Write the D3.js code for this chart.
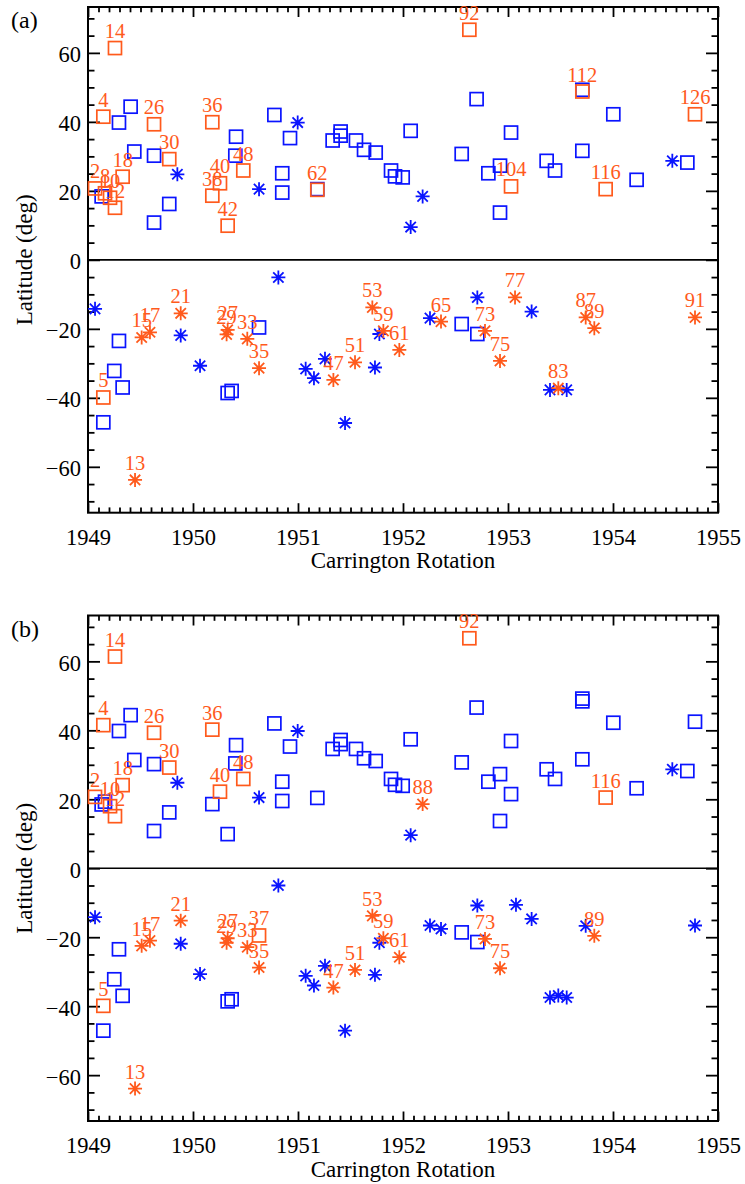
<!DOCTYPE html>
<html>
<head>
<meta charset="utf-8">
<script src="https://cdn.jsdelivr.net/npm/d3@7"></script>
<style>
  html, body { margin: 0; padding: 0; background: #fff; }
  svg { display: block; }
  svg text { font-family: "Liberation Serif", "Times New Roman", Times, "DejaVu Serif", serif; }
</style>
</head>
<body>
<svg id="chart" width="745" height="1184"></svg>
<script>
// ---------------- DATA ----------------
const xTicks = [1949, 1950, 1951, 1952, 1953, 1954, 1955];
const yTicks = [-60, -40, -20, 0, 20, 40, 60];
const xTitle = "Carrington Rotation";
const yTitle = "Latitude (deg)";
const panelLabels = ["(a)", "(b)"];

// Panel (a)
const aBlueSquares = [
  [1949.13, 18.4], [1949.295, 39.8], [1949.406, 44.4], [1949.441, 31.4], [1949.629, 30.2],
  [1949.629, 10.8], [1949.774, 16.2], [1950.41, 35.7], [1950.403, 30.2], [1950.775, 42.0],
  [1950.924, 35.3], [1950.85, 25.1], [1950.85, 19.5], [1951.184, 20.5], [1951.33, 34.6],
  [1951.406, 37.2], [1951.406, 36.0], [1951.552, 34.6], [1951.629, 31.9], [1951.74, 31.1],
  [1951.886, 25.9], [1951.924, 24.2], [1951.997, 23.9], [1952.073, 37.4], [1952.559, 30.7],
  [1952.701, 46.6], [1952.813, 25.1], [1952.924, 27.3], [1952.924, 13.7], [1953.029, 36.9],
  [1953.368, 28.7], [1953.448, 25.9], [1953.708, 31.6], [1953.708, 49.3], [1954.003, 42.2],
  [1954.225, 23.2], [1954.708, 28.2],
  [1949.295, -23.5], [1949.25, -32.2], [1949.33, -37.0], [1949.146, -47.1], [1950.33, -38.6],
  [1950.368, -38.0], [1950.629, -19.6], [1952.559, -18.6], [1952.708, -21.5]
];
const aBlueStars = [
  [1949.851, 24.8], [1950.629, 20.5], [1950.997, 39.8], [1952.187, 18.4], [1952.073, 9.5],
  [1954.565, 28.7],
  [1949.067, -14.2], [1949.883, -21.9], [1950.067, -30.7], [1950.813, -5.1], [1951.073, -31.6],
  [1951.152, -34.3], [1951.257, -28.7], [1951.775, -21.5], [1951.733, -31.2], [1951.448, -47.3],
  [1952.257, -16.9], [1952.708, -10.9], [1953.225, -15.0], [1953.4, -37.7], [1953.559, -37.7]
];
const aOrangeSquares = [
  [2, 1949.067, 20.7], [4, 1949.146, 41.5], [8, 1949.162, 19.3], [10, 1949.21, 18.0],
  [12, 1949.257, 15.1], [14, 1949.257, 61.4], [18, 1949.33, 24.1], [26, 1949.629, 39.3],
  [30, 1949.774, 29.2], [36, 1950.184, 39.9], [38, 1950.184, 18.6], [40, 1950.257, 22.2],
  [42, 1950.33, 9.9], [48, 1950.479, 25.9], [62, 1951.184, 20.3], [92, 1952.632, 66.7],
  [104, 1953.029, 21.3], [112, 1953.708, 48.8], [116, 1953.93, 20.5], [126, 1954.781, 42.2],
  [5, 1949.146, -39.9]
];
const aOrangeStars = [
  [13, 1949.448, -63.8], [15, 1949.511, -22.5], [17, 1949.59, -21.0], [21, 1949.883, -15.5],
  [27, 1950.33, -20.3], [29, 1950.32, -21.6], [33, 1950.517, -22.9], [35, 1950.629, -31.4],
  [47, 1951.337, -34.8], [51, 1951.543, -29.7], [53, 1951.708, -13.8], [59, 1951.813, -20.6],
  [61, 1951.965, -26.1], [65, 1952.362, -17.9], [73, 1952.781, -20.6], [75, 1952.924, -29.3],
  [77, 1953.067, -10.9], [83, 1953.479, -37.2], [87, 1953.74, -16.7], [89, 1953.822, -19.8],
  [91, 1954.781, -16.7]
];

// Panel (b)
const bBlueSquares = [
  [1949.13, 18.5], [1949.162, 19.3], [1949.295, 39.8], [1949.406, 44.4], [1949.441, 31.4],
  [1949.629, 30.2], [1949.629, 10.8], [1949.774, 16.2], [1950.184, 18.6], [1950.33, 9.9],
  [1950.41, 35.7], [1950.403, 30.4], [1950.775, 42.0], [1950.924, 35.3], [1950.85, 25.1],
  [1950.85, 19.5], [1951.184, 20.4], [1951.33, 34.6], [1951.406, 37.2], [1951.406, 36.0],
  [1951.552, 34.6], [1951.629, 31.9], [1951.74, 31.1], [1951.886, 25.9], [1951.924, 24.2],
  [1951.997, 23.9], [1952.073, 37.4], [1952.559, 30.7], [1952.701, 46.6], [1952.813, 25.1],
  [1952.924, 27.3], [1952.924, 13.7], [1953.029, 36.9], [1953.029, 21.5], [1953.368, 28.7],
  [1953.448, 25.9], [1953.708, 31.6], [1953.708, 49.2], [1953.708, 48.4], [1954.003, 42.2],
  [1954.225, 23.2], [1954.708, 28.2], [1954.781, 42.5],
  [1949.295, -23.5], [1949.25, -32.2], [1949.33, -37.0], [1949.146, -47.1], [1950.33, -38.6],
  [1950.368, -38.0], [1952.559, -18.6], [1952.708, -21.4]
];
const bBlueStars = [
  [1949.851, 24.8], [1950.629, 20.5], [1950.997, 39.8], [1952.073, 9.6], [1954.565, 28.7],
  [1949.067, -14.2], [1949.883, -21.9], [1950.067, -30.7], [1950.813, -5.0], [1951.073, -31.2],
  [1951.152, -34.0], [1951.257, -28.3], [1951.775, -21.6], [1951.733, -30.9], [1951.448, -47.1],
  [1952.257, -16.6], [1952.362, -17.6], [1952.708, -10.8], [1953.076, -10.6], [1953.225, -14.7],
  [1953.4, -37.5], [1953.479, -36.9], [1953.559, -37.5], [1953.74, -16.7], [1954.781, -16.6]
];
const bOrangeSquares = [
  [2, 1949.067, 20.7], [4, 1949.146, 41.5], [10, 1949.21, 18.0], [12, 1949.257, 15.1],
  [14, 1949.257, 61.4], [18, 1949.33, 24.1], [26, 1949.629, 39.3], [30, 1949.774, 29.2],
  [36, 1950.184, 40.2], [40, 1950.257, 22.2], [48, 1950.479, 25.9], [92, 1952.632, 66.7],
  [116, 1953.93, 20.5], [5, 1949.146, -39.9], [37, 1950.629, -19.5]
];
const bOrangeStars = [
  [13, 1949.448, -63.9], [15, 1949.511, -22.5], [17, 1949.59, -21.0], [21, 1949.883, -15.2],
  [27, 1950.33, -20.3], [29, 1950.32, -21.6], [33, 1950.517, -22.9], [35, 1950.629, -28.8],
  [47, 1951.337, -34.6], [51, 1951.543, -29.5], [53, 1951.708, -13.8], [59, 1951.813, -20.3],
  [61, 1951.965, -25.8], [73, 1952.781, -20.5], [75, 1952.924, -29.0], [88, 1952.187, 18.6],
  [89, 1953.822, -19.6]
];

// ---------------- DRAWING ----------------
const BLUE = "#0a14ff";
const ORANGE = "#ff5a1c";

const svg = d3.select("#chart");
const plotLeft = 88, plotRight = 718;
const yDomain = [-73.3, 73.3];

const panels = [
  { top: 7, bottom: 512.7, label: panelLabels[0],
    bs: aBlueSquares, bst: aBlueStars, os: aOrangeSquares, ost: aOrangeStars },
  { top: 615.5, bottom: 1121, label: panelLabels[1],
    bs: bBlueSquares, bst: bBlueStars, os: bOrangeSquares, ost: bOrangeStars }
];

function starPath(r) {
  const d = r * 0.74;
  return `M${-r},0L${r},0M0,${-r}L0,${r}M${-d},${-d}L${d},${d}M${-d},${d}L${d},${-d}`;
}

function range(a, b, step) {
  const out = [];
  for (let v = a; v <= b + 1e-9; v += step) out.push(+v.toFixed(4));
  return out;
}

panels.forEach(p => {
  const x = d3.scaleLinear().domain([1949, 1955]).range([plotLeft, plotRight]);
  const y = d3.scaleLinear().domain(yDomain).range([p.bottom, p.top]);
  const g = svg.append("g");

  const xMinor = range(1949, 1955, 0.1).filter(v => Math.abs(v - Math.round(v)) > 1e-6);
  const yMinor = range(-70, 70, 5).filter(v => v % 20 !== 0);

  g.append("g").attr("transform", `translate(0,${p.bottom})`)
    .call(d3.axisBottom(x).tickValues(xTicks).tickFormat(d3.format("d"))
      .tickSizeInner(-9.5).tickSizeOuter(0).tickPadding(16));
  g.append("g").attr("transform", `translate(0,${p.bottom})`)
    .call(d3.axisBottom(x).tickValues(xMinor).tickFormat("").tickSizeInner(-5.3).tickSizeOuter(0));
  g.append("g").attr("transform", `translate(0,${p.top})`)
    .call(d3.axisTop(x).tickValues(xTicks).tickFormat("").tickSizeInner(-10).tickSizeOuter(0));
  g.append("g").attr("transform", `translate(0,${p.top})`)
    .call(d3.axisTop(x).tickValues(xMinor).tickFormat("").tickSizeInner(-5.3).tickSizeOuter(0));
  const gl = g.append("g").attr("transform", `translate(${plotLeft},0)`)
    .call(d3.axisLeft(y).tickValues(yTicks).tickFormat(d3.format("d"))
      .tickSizeInner(-12).tickSizeOuter(0).tickPadding(7));
  g.append("g").attr("transform", `translate(${plotLeft},0)`)
    .call(d3.axisLeft(y).tickValues(yMinor).tickFormat("").tickSizeInner(-6.5).tickSizeOuter(0));
  g.append("g").attr("transform", `translate(${plotRight},0)`)
    .call(d3.axisRight(y).tickValues(yTicks).tickFormat("").tickSizeInner(-12).tickSizeOuter(0));
  g.append("g").attr("transform", `translate(${plotRight},0)`)
    .call(d3.axisRight(y).tickValues(yMinor).tickFormat("").tickSizeInner(-6.5).tickSizeOuter(0));

  g.selectAll("g").attr("font-family", null);
  g.selectAll(".domain").remove();
  g.selectAll(".tick line").attr("stroke", "#000").attr("stroke-width", 1.8);
  g.selectAll(".tick text").attr("font-size", 22.5).attr("fill", "#000");
  gl.selectAll(".tick text").attr("dy", "0.4em");

  g.append("rect").attr("x", plotLeft).attr("y", p.top)
    .attr("width", plotRight - plotLeft).attr("height", p.bottom - p.top)
    .attr("fill", "none").attr("stroke", "#000").attr("stroke-width", 2);
  g.append("line").attr("x1", plotLeft).attr("x2", plotRight)
    .attr("y1", y(0)).attr("y2", y(0)).attr("stroke", "#000").attr("stroke-width", 1.6);

  g.append("text").attr("x", (plotLeft + plotRight) / 2).attr("y", p.bottom + 55.5)
    .attr("text-anchor", "middle").attr("font-size", 23)
    .text(xTitle);
  g.append("text").attr("transform", `translate(32,${(p.top + p.bottom) / 2}) rotate(-90)`)
    .attr("text-anchor", "middle").attr("font-size", 23)
    .text(yTitle);
  g.append("text").attr("x", 11).attr("y", p.top + 21)
    .attr("font-size", 24).text(p.label);

  const S = 13, R = 7;
  g.append("g").selectAll("rect").data(p.bs).join("rect")
    .attr("x", d => x(d[0]) - S / 2).attr("y", d => y(d[1]) - S / 2)
    .attr("width", S).attr("height", S)
    .attr("fill", "none").attr("stroke", BLUE).attr("stroke-width", 1.7);
  g.append("g").selectAll("path").data(p.bst).join("path")
    .attr("transform", d => `translate(${x(d[0])},${y(d[1])})`)
    .attr("d", starPath(R)).attr("fill", "none").attr("stroke", BLUE).attr("stroke-width", 1.8);
  g.append("g").selectAll("rect").data(p.os).join("rect")
    .attr("x", d => x(d[1]) - S / 2).attr("y", d => y(d[2]) - S / 2)
    .attr("width", S).attr("height", S)
    .attr("fill", "none").attr("stroke", ORANGE).attr("stroke-width", 1.7);
  g.append("g").selectAll("path").data(p.ost).join("path")
    .attr("transform", d => `translate(${x(d[1])},${y(d[2])})`)
    .attr("d", starPath(R)).attr("fill", "none").attr("stroke", ORANGE).attr("stroke-width", 1.8);
  const labels = p.os.concat(p.ost);
  g.append("g").selectAll("text").data(labels).join("text")
    .attr("x", d => x(d[1])).attr("y", d => y(d[2]) - 10)
    .attr("text-anchor", "middle").attr("font-size", 20.5)
    .attr("fill", ORANGE).text(d => d[0]);
});
</script>
</body>
</html>
